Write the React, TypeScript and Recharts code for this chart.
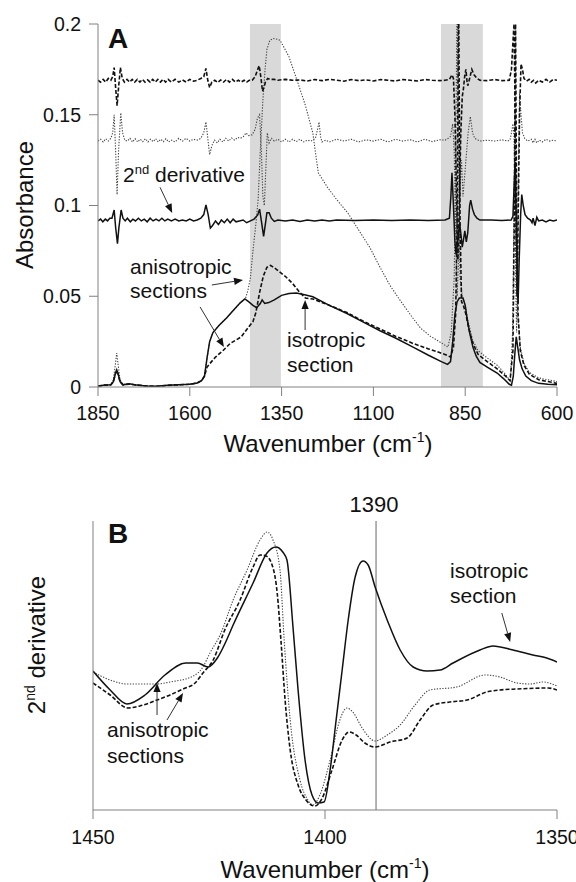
import React from 'react';
import { LineChart, Line, XAxis, YAxis, ReferenceArea, ReferenceLine } from 'recharts';

// ---------- Panel A data: [wavenumber, absorbance] ----------
const xTicksA = [1850, 1600, 1350, 1100, 850, 600];
const yTicksA = [0, 0.05, 0.1, 0.15, 0.2];
const bandsA = [[1436, 1352], [916, 802]];

const isoAbs = [
  [1850,0.0005],[1835,0.001],[1815,0.0012],[1808,0.003],[1803,0.007],[1799,0.0094],[1795,0.007],[1790,0.003],[1782,0.0012],
  [1765,0.0018],[1750,0.0012],[1720,0.0006],[1690,0.0004],[1660,0.0009],[1630,0.0012],[1600,0.0015],[1580,0.0022],[1568,0.0035],
  [1560,0.006],[1553,0.016],[1546,0.025],[1537,0.030],[1520,0.034],[1500,0.038],[1480,0.0425],[1462,0.0465],[1450,0.0485],
  [1440,0.047],[1428,0.045],[1418,0.0437],[1408,0.046],[1403,0.048],[1396,0.046],[1385,0.0465],[1370,0.048],[1350,0.0505],
  [1330,0.0515],[1310,0.0518],[1290,0.051],[1265,0.0497],[1220,0.045],[1172,0.0405],[1130,0.036],[1082,0.031],[1040,0.027],
  [992,0.022],[950,0.0175],[915,0.014],[898,0.0125],[890,0.014],[884,0.025],[878,0.040],[872,0.047],[866,0.049],[856,0.049],
  [850,0.045],[845,0.038],[838,0.030],[829,0.022],[820,0.017],[810,0.0135],[790,0.011],[763,0.0077],[745,0.0045],[730,0.0015],
  [724,0.001],[719,0.006],[715,0.018],[711,0.0276],[707,0.022],[702,0.015],[695,0.010],[685,0.006],[670,0.0035],[650,0.002],
  [625,0.0015],[600,0.0012],
];

const anisoDashAbs = [
  [1850,0.0005],[1835,0.001],[1815,0.0012],[1808,0.003],[1803,0.007],[1799,0.0092],[1795,0.007],[1790,0.003],[1782,0.0012],
  [1765,0.0016],[1750,0.0012],[1720,0.0006],[1690,0.0004],[1660,0.0009],[1630,0.0012],[1600,0.0015],[1580,0.0022],[1568,0.0035],
  [1560,0.006],[1553,0.011],[1545,0.013],[1530,0.0165],[1510,0.020],[1490,0.024],[1460,0.0276],[1440,0.033],[1428,0.036],
  [1420,0.041],[1410,0.052],[1400,0.061],[1390,0.066],[1380,0.067],[1365,0.065],[1340,0.061],[1320,0.057],[1300,0.052],
  [1285,0.049],[1265,0.0485],[1220,0.045],[1172,0.041],[1130,0.0365],[1082,0.032],[1040,0.028],[992,0.024],[950,0.021],
  [920,0.019],[900,0.0175],[890,0.0165],[882,0.022],[876,0.040],[872,0.090],[868,0.215],[864,0.090],[860,0.047],[855,0.045],
  [848,0.040],[840,0.032],[829,0.024],[815,0.018],[790,0.014],[763,0.010],[740,0.006],[728,0.0035],[720,0.020],[716,0.100],
  [713,0.205],[710,0.100],[706,0.040],[700,0.020],[690,0.012],[675,0.007],[650,0.004],[600,0.002],
];

const anisoDotAbs = [
  [1850,0.0005],[1835,0.001],[1815,0.0014],[1808,0.004],[1803,0.012],[1799,0.0187],[1795,0.012],[1790,0.004],[1782,0.0014],
  [1765,0.0018],[1750,0.0012],[1720,0.0006],[1690,0.0004],[1660,0.0009],[1630,0.0012],[1600,0.0015],[1580,0.0022],[1568,0.0035],
  [1560,0.006],[1553,0.016],[1546,0.025],[1537,0.030],[1520,0.034],[1500,0.038],[1480,0.0425],[1462,0.0465],[1448,0.049],
  [1442,0.053],[1435,0.060],[1428,0.075],[1420,0.090],[1414,0.103],[1408,0.130],[1401,0.158],[1395,0.175],[1390,0.186],
  [1382,0.191],[1373,0.192],[1360,0.1915],[1354,0.191],[1330,0.182],[1308,0.169],[1285,0.155],[1265,0.140],[1255,0.125],
  [1250,0.118],[1225,0.110],[1199,0.103],[1170,0.096],[1145,0.088],[1110,0.077],[1082,0.066],[1055,0.056],[1028,0.048],
  [1000,0.040],[972,0.0325],[945,0.028],[919,0.0248],[897,0.022],[888,0.030],[880,0.060],[876,0.120],[872,0.220],[868,0.120],
  [864,0.060],[858,0.050],[850,0.045],[842,0.036],[830,0.026],[815,0.020],[790,0.016],[763,0.012],[740,0.007],[727,0.003],
  [721,0.030],[717,0.100],[714,0.153],[711,0.100],[707,0.040],[700,0.022],[690,0.013],[675,0.008],[650,0.005],[600,0.003],
];

const isoDeriv = [
  [1850,0.0915],[1843,0.0925],[1837,0.091],[1830,0.0925],[1824,0.0915],[1818,0.093],[1812,0.093],[1806,0.0975],[1802,0.088],
  [1797,0.079],[1793,0.088],[1787,0.0975],[1782,0.093],[1776,0.0915],[1770,0.093],[1762,0.091],[1755,0.0925],[1748,0.0915],
  [1740,0.093],[1732,0.0915],[1724,0.0925],[1716,0.091],[1708,0.093],[1700,0.0915],[1692,0.0925],[1684,0.0915],[1676,0.093],
  [1668,0.0915],[1660,0.0925],[1650,0.0915],[1640,0.0925],[1630,0.0915],[1620,0.092],[1610,0.0915],[1600,0.0925],[1590,0.0915],
  [1580,0.092],[1570,0.093],[1562,0.095],[1556,0.1003],[1550,0.095],[1544,0.0876],[1538,0.089],[1530,0.0915],[1522,0.0895],
  [1514,0.092],[1506,0.0905],[1498,0.0925],[1490,0.0905],[1482,0.0925],[1474,0.091],[1465,0.0915],[1455,0.092],[1445,0.0905],
  [1435,0.0915],[1425,0.0925],[1415,0.0948],[1410,0.098],[1404,0.090],[1399,0.083],[1394,0.090],[1390,0.096],[1384,0.096],
  [1378,0.093],[1370,0.0912],[1360,0.092],[1340,0.0915],[1320,0.092],[1300,0.0912],[1280,0.092],[1260,0.0915],[1240,0.092],
  [1220,0.0915],[1200,0.092],[1150,0.0917],[1100,0.092],[1050,0.0918],[1000,0.092],[950,0.0918],[905,0.092],[893,0.093],
  [889,0.105],[886,0.118],[882,0.100],[878,0.080],[875,0.073],[870,0.082],[865,0.090],[861,0.083],[858,0.077],[854,0.082],
  [851,0.086],[847,0.080],[843,0.085],[838,0.100],[835,0.103],[830,0.098],[825,0.095],[818,0.093],[810,0.092],[780,0.092],
  [750,0.0918],[725,0.092],[720,0.094],[717,0.110],[714,0.124],[711,0.090],[708,0.060],[706,0.046],[703,0.070],[699,0.095],
  [696,0.106],[692,0.100],[687,0.095],[680,0.093],[672,0.092],[668,0.0905],[665,0.093],[660,0.089],[655,0.0935],[650,0.0915],
  [640,0.092],[630,0.091],[620,0.092],[610,0.0915],[600,0.092],
];

const anisoDotDeriv = [
  [1850,0.1355],[1843,0.1365],[1836,0.135],[1829,0.1368],[1822,0.1355],[1815,0.137],[1810,0.140],[1806,0.150],[1802,0.130],
  [1798,0.106],[1794,0.130],[1788,0.151],[1783,0.140],[1777,0.136],[1770,0.1355],[1763,0.137],[1756,0.135],[1749,0.1368],
  [1742,0.135],[1735,0.1365],[1728,0.1352],[1721,0.1368],[1714,0.135],[1707,0.1365],[1700,0.1352],[1693,0.1368],[1686,0.135],
  [1679,0.1365],[1672,0.1352],[1665,0.1368],[1658,0.135],[1650,0.136],[1640,0.135],[1630,0.137],[1620,0.1355],[1610,0.137],
  [1600,0.1355],[1590,0.1365],[1580,0.136],[1570,0.137],[1562,0.140],[1556,0.146],[1551,0.137],[1546,0.128],[1540,0.133],
  [1533,0.136],[1525,0.1345],[1518,0.1365],[1510,0.135],[1502,0.137],[1494,0.1355],[1486,0.1372],[1478,0.136],[1470,0.1375],
  [1462,0.137],[1454,0.138],[1447,0.140],[1440,0.1385],[1430,0.139],[1422,0.142],[1416,0.148],[1410,0.150],[1405,0.130],
  [1401,0.105],[1397,0.100],[1393,0.120],[1389,0.140],[1384,0.1345],[1378,0.137],[1370,0.1355],[1360,0.1365],[1350,0.135],
  [1340,0.1365],[1330,0.135],[1320,0.1365],[1310,0.1352],[1300,0.1365],[1290,0.135],[1280,0.136],[1270,0.1355],[1258,0.137],
  [1252,0.142],[1248,0.146],[1244,0.138],[1240,0.135],[1230,0.136],[1220,0.135],[1200,0.1365],[1180,0.1355],[1160,0.1365],
  [1140,0.135],[1120,0.1362],[1100,0.1355],[1080,0.1365],[1060,0.135],[1040,0.1365],[1020,0.1355],[1000,0.1362],[980,0.135],
  [960,0.1365],[940,0.1352],[920,0.1362],[905,0.136],[896,0.137],[890,0.138],[884,0.145],[880,0.130],[876,0.090],[872,0.050],
  [868,0.070],[864,0.110],[860,0.125],[856,0.105],[850,0.120],[842,0.140],[836,0.149],[830,0.140],[824,0.137],[810,0.1355],
  [790,0.136],[770,0.1355],[750,0.1362],[735,0.1355],[728,0.136],[724,0.140],[720,0.145],[717,0.138],[714,0.100],[712,0.050],
  [710,0.030],[708,0.060],[705,0.120],[702,0.162],[698,0.150],[694,0.140],[688,0.137],[680,0.1355],[670,0.1365],[665,0.1345],
  [660,0.1365],[655,0.1345],[648,0.136],[640,0.135],[630,0.1365],[620,0.1355],[610,0.136],[600,0.1355],
];

const anisoDashDeriv = [
  [1850,0.169],[1843,0.168],[1836,0.1695],[1829,0.168],[1822,0.170],[1815,0.169],[1810,0.171],[1806,0.176],[1802,0.165],
  [1798,0.155],[1794,0.165],[1789,0.176],[1784,0.170],[1778,0.168],[1771,0.1695],[1764,0.168],[1757,0.1695],[1750,0.168],
  [1743,0.1695],[1736,0.168],[1729,0.1695],[1722,0.168],[1715,0.1692],[1708,0.168],[1701,0.1695],[1694,0.168],[1687,0.1695],
  [1680,0.168],[1673,0.1695],[1666,0.168],[1659,0.1695],[1650,0.168],[1640,0.1695],[1630,0.168],[1620,0.1692],[1610,0.168],
  [1600,0.1695],[1590,0.1685],[1580,0.169],[1570,0.170],[1562,0.171],[1556,0.1755],[1551,0.169],[1546,0.165],[1540,0.168],
  [1532,0.169],[1524,0.1678],[1516,0.1692],[1508,0.168],[1500,0.1695],[1492,0.168],[1484,0.1695],[1476,0.168],[1468,0.169],
  [1460,0.168],[1452,0.169],[1445,0.168],[1438,0.169],[1430,0.169],[1422,0.171],[1415,0.175],[1411,0.177],[1406,0.170],
  [1402,0.163],[1398,0.165],[1394,0.168],[1388,0.170],[1382,0.1695],[1370,0.1695],[1360,0.169],[1340,0.1695],[1320,0.169],
  [1300,0.1692],[1280,0.1686],[1260,0.1694],[1240,0.1688],[1220,0.1695],[1200,0.169],[1180,0.1685],[1160,0.1694],[1140,0.1688],
  [1120,0.1692],[1100,0.1686],[1080,0.1694],[1060,0.169],[1040,0.1686],[1020,0.1694],[1000,0.169],[980,0.1686],[960,0.1694],
  [940,0.169],[920,0.1688],[905,0.169],[893,0.1695],[886,0.172],[882,0.170],[878,0.150],[874,0.110],[870,0.070],[866,0.100],
  [862,0.140],[858,0.160],[855,0.164],[851,0.172],[848,0.175],[845,0.168],[843,0.166],[838,0.170],[832,0.175],[826,0.172],
  [818,0.170],[810,0.169],[790,0.1688],[770,0.1694],[750,0.1688],[730,0.169],[724,0.175],[720,0.190],[717,0.200],[714,0.150],
  [711,0.080],[709,0.050],[706,0.090],[702,0.150],[698,0.178],[694,0.175],[690,0.170],[683,0.1685],[676,0.1695],[670,0.168],
  [664,0.169],[658,0.1675],[650,0.169],[640,0.168],[630,0.1695],[620,0.168],[610,0.1695],[600,0.169],
];

// ---------- Panel B data: [wavenumber, 2nd derivative (arb. units)] ----------
const xTicksB = [1450, 1400, 1350];
const markerB = 1389;

const isoDerivB = [
  [1450,139],[1446.3,120],[1442.7,106],[1438.8,115],[1434.5,135],[1430,147],[1427.5,147],[1425.2,143],[1423.2,152],
  [1421.4,168],[1419.8,185],[1415.5,227],[1412.5,257],[1410.6,263],[1409.1,258],[1408.2,250],[1406.9,183],[1405.8,120],[1404.3,50],
  [1402.8,15],[1401.5,7],[1400.2,8],[1398.9,40],[1397.6,90],[1396.3,140],[1395.0,190],[1393.5,233],[1391.8,249],[1390.7,245],
  [1389.2,223],[1386.6,190],[1383.8,160],[1381.0,143],[1378.0,139],[1375.2,140],[1372.4,147],[1366.6,160],[1363.8,164],
  [1359.5,160],[1355.2,155],[1352.2,152],[1350,148],
];

const anisoDotDerivB = [
  [1450,138],[1446.3,130],[1442.7,126],[1436.2,126],[1433.4,128],[1428.4,134],[1426.3,143],[1424.8,157],[1422.6,175],
  [1419.8,210],[1416.8,240],[1414.0,270],[1412.5,278],[1411.2,270],[1409.7,240],[1408.8,170],[1407.5,90],[1405.4,30],
  [1403.7,10],[1402.6,5],[1401.1,15],[1398.9,50],[1396.8,90],[1395.3,102],[1394.0,98],[1392.0,82],[1389.2,69],[1386.6,75],
  [1383.8,85],[1380.6,105],[1377.4,120],[1371.6,123],[1365.5,135],[1362.3,133],[1358.6,127],[1355.8,126],[1353.0,128],
  [1350,124],
];

const anisoDashDerivB = [
  [1450,127],[1446.3,115],[1442.5,102],[1439.9,104],[1436.2,110],[1433.4,115],[1430.6,121],[1428.0,127],[1426.3,137],
  [1424.1,150],[1421.6,180],[1418.3,210],[1415.5,243],[1414.0,255],[1412.7,254],[1411.4,245],[1410.3,217],[1409.5,170],
  [1408.6,110],[1407.5,60],[1405.8,25],[1404.1,10],[1402.2,4],[1400.6,12],[1398.5,40],[1396.3,70],[1394.8,78],[1393.3,75],
  [1391.4,67],[1389.2,63],[1386.0,68],[1382.3,72],[1379.5,90],[1376.7,105],[1373.1,108],[1369.4,110],[1365.1,118],
  [1362.3,120],[1358.6,121],[1351.9,122],[1350,120],
];

// ---------- annotation arrows (data coordinates) ----------
const arrowsA = [
  [[1681, 0.110], [1648, 0.0959]],
  [[1540, 0.0562], [1455, 0.059]],
  [[1572, 0.0441], [1507, 0.022]],
  [[1286, 0.0314], [1286, 0.048]],
];
const arrowsB = [
  [[1361.9, 197], [1360.1, 168]],
  [[1436.2, 95], [1436.2, 127]],
  [[1434.05, 90], [1430.6, 117]],
];

const FONT = "'Liberation Sans', Arial, Helvetica, sans-serif";
const AXIS = '#808080';
const toPts = (arr: number[][]) => arr.map(([x, y]) => ({ x, y }));

const ArrowShape = (p: any) => {
  const { x1, y1, x2, y2 } = p;
  if ([x1, y1, x2, y2].some((v) => typeof v !== 'number' || isNaN(v))) return <g />;
  const ang = Math.atan2(y2 - y1, x2 - x1);
  const L = 9, W = 3.6;
  const bx = x2 - L * Math.cos(ang);
  const by = y2 - L * Math.sin(ang);
  const pts = `${x2},${y2} ${bx + W * Math.sin(ang)},${by - W * Math.cos(ang)} ${bx - W * Math.sin(ang)},${by + W * Math.cos(ang)}`;
  return (
    <g>
      <line x1={x1} y1={y1} x2={bx} y2={by} stroke="#333" strokeWidth={1} />
      <polygon points={pts} fill="#111" />
    </g>
  );
};

const tickStyle = { fill: '#111', fontSize: 19.5, fontFamily: FONT };

const solid = { stroke: '#111', strokeWidth: 1.5 };
const dashed = { stroke: '#111', strokeWidth: 1.6, strokeDasharray: '4 2' };
const dotted = { stroke: '#444', strokeWidth: 1.1, strokeDasharray: '1.3 1.5' };

function PanelA() {
  return (
    <LineChart width={576} height={460} margin={{ top: 24, right: 19, left: 0, bottom: 0 }}>
      {bandsA.map(([a, b], i) => (
        <ReferenceArea key={i} x1={a} x2={b} y1={0} y2={0.2} fill="#d9d9d9" fillOpacity={1} stroke="none" />
      ))}
      <XAxis type="number" dataKey="x" domain={[600, 1850]} reversed allowDataOverflow ticks={xTicksA} interval={0}
        height={73} tickSize={9} tickMargin={10} stroke={AXIS} tick={tickStyle} />
      <YAxis type="number" dataKey="y" domain={[0, 0.2]} allowDataOverflow ticks={yTicksA} interval={0}
        width={98} tickSize={9} tickMargin={8} stroke={AXIS} tick={tickStyle} />
      <Line data={toPts(anisoDotAbs)} dataKey="y" type="linear" dot={false} activeDot={false} isAnimationActive={false} {...dotted} />
      <Line data={toPts(anisoDotDeriv)} dataKey="y" type="linear" dot={false} activeDot={false} isAnimationActive={false} {...dotted} />
      <Line data={toPts(anisoDashAbs)} dataKey="y" type="linear" dot={false} activeDot={false} isAnimationActive={false} {...dashed} />
      <Line data={toPts(anisoDashDeriv)} dataKey="y" type="linear" dot={false} activeDot={false} isAnimationActive={false} {...dashed} />
      <Line data={toPts(isoAbs)} dataKey="y" type="linear" dot={false} activeDot={false} isAnimationActive={false} {...solid} />
      <Line data={toPts(isoDeriv)} dataKey="y" type="linear" dot={false} activeDot={false} isAnimationActive={false} {...solid} />
      {arrowsA.map((seg, i) => (
        <ReferenceLine key={i} segment={seg.map(([x, y]) => ({ x, y }))} stroke="#333" ifOverflow="visible" shape={ArrowShape} />
      ))}
    </LineChart>
  );
}

function PanelB() {
  return (
    <LineChart width={576} height={422} margin={{ top: 61, right: 19, left: 0, bottom: 0 }}>
      <XAxis type="number" dataKey="x" domain={[1350, 1450]} reversed allowDataOverflow ticks={xTicksB} interval={0}
        height={72} tickSize={9} tickMargin={11} stroke={AXIS} tick={tickStyle} />
      <YAxis type="number" dataKey="y" domain={[0, 289]} allowDataOverflow width={93} tick={false} tickLine={false} stroke={AXIS} />
      <ReferenceLine x={markerB} stroke={AXIS} strokeWidth={1.2} />
      <Line data={toPts(anisoDotDerivB)} dataKey="y" type="monotone" dot={false} activeDot={false} isAnimationActive={false} {...dotted} />
      <Line data={toPts(anisoDashDerivB)} dataKey="y" type="monotone" dot={false} activeDot={false} isAnimationActive={false} {...dashed} />
      <Line data={toPts(isoDerivB)} dataKey="y" type="monotone" dot={false} activeDot={false} isAnimationActive={false} {...solid} />
      {arrowsB.map((seg, i) => (
        <ReferenceLine key={i} segment={seg.map(([x, y]) => ({ x, y }))} stroke="#333" ifOverflow="visible" shape={ArrowShape} />
      ))}
    </LineChart>
  );
}

function Overlay() {
  const t = { fontFamily: FONT, fill: '#111' };
  return (
    <svg width={576} height={882} style={{ position: 'absolute', left: 0, top: 0, pointerEvents: 'none' }}>
      <text x={108} y={48} fontSize={28} fontWeight="bold" {...t}>A</text>
      <text x={108} y={543} fontSize={28} fontWeight="bold" {...t}>B</text>
      <text x={123} y={182} fontSize={21} {...t}>2<tspan fontSize={13} dy={-8}>nd</tspan><tspan dy={8}> derivative</tspan></text>
      <text x={130} y={274} fontSize={21} {...t}>anisotropic</text>
      <text x={130} y={298} fontSize={21} {...t}>sections</text>
      <text x={287} y={347} fontSize={21} {...t}>isotropic</text>
      <text x={287} y={372} fontSize={21} {...t}>section</text>
      <text x={328} y={452} fontSize={24} textAnchor="middle" {...t}>Wavenumber (cm<tspan fontSize={14} dy={-10}>-1</tspan><tspan dy={10}>)</tspan></text>
      <text transform="translate(33,205) rotate(-90)" x={0} y={0} fontSize={24} textAnchor="middle" {...t}>Absorbance</text>
      <text x={374} y={512} fontSize={22} textAnchor="middle" {...t}>1390</text>
      <text x={450} y={578} fontSize={21} {...t}>isotropic</text>
      <text x={450} y={603} fontSize={21} {...t}>section</text>
      <text x={107} y={737} fontSize={21} {...t}>anisotropic</text>
      <text x={107} y={763} fontSize={21} {...t}>sections</text>
      <text transform="translate(45,645) rotate(-90)" x={0} y={0} fontSize={24} textAnchor="middle" {...t}>2<tspan fontSize={14} dy={-10}>nd</tspan><tspan dy={10}> derivative</tspan></text>
      <text x={325} y={878} fontSize={24} textAnchor="middle" {...t}>Wavenumber (cm<tspan fontSize={14} dy={-10}>-1</tspan><tspan dy={10}>)</tspan></text>
    </svg>
  );
}

export default function App() {
  return (
    <div style={{ position: 'absolute', left: 0, top: 0, width: 576, height: 882, background: '#fff', overflow: 'hidden' }}>
      <div style={{ position: 'absolute', left: 0, top: 0 }}><PanelA /></div>
      <div style={{ position: 'absolute', left: 0, top: 460 }}><PanelB /></div>
      <Overlay />
    </div>
  );
}
